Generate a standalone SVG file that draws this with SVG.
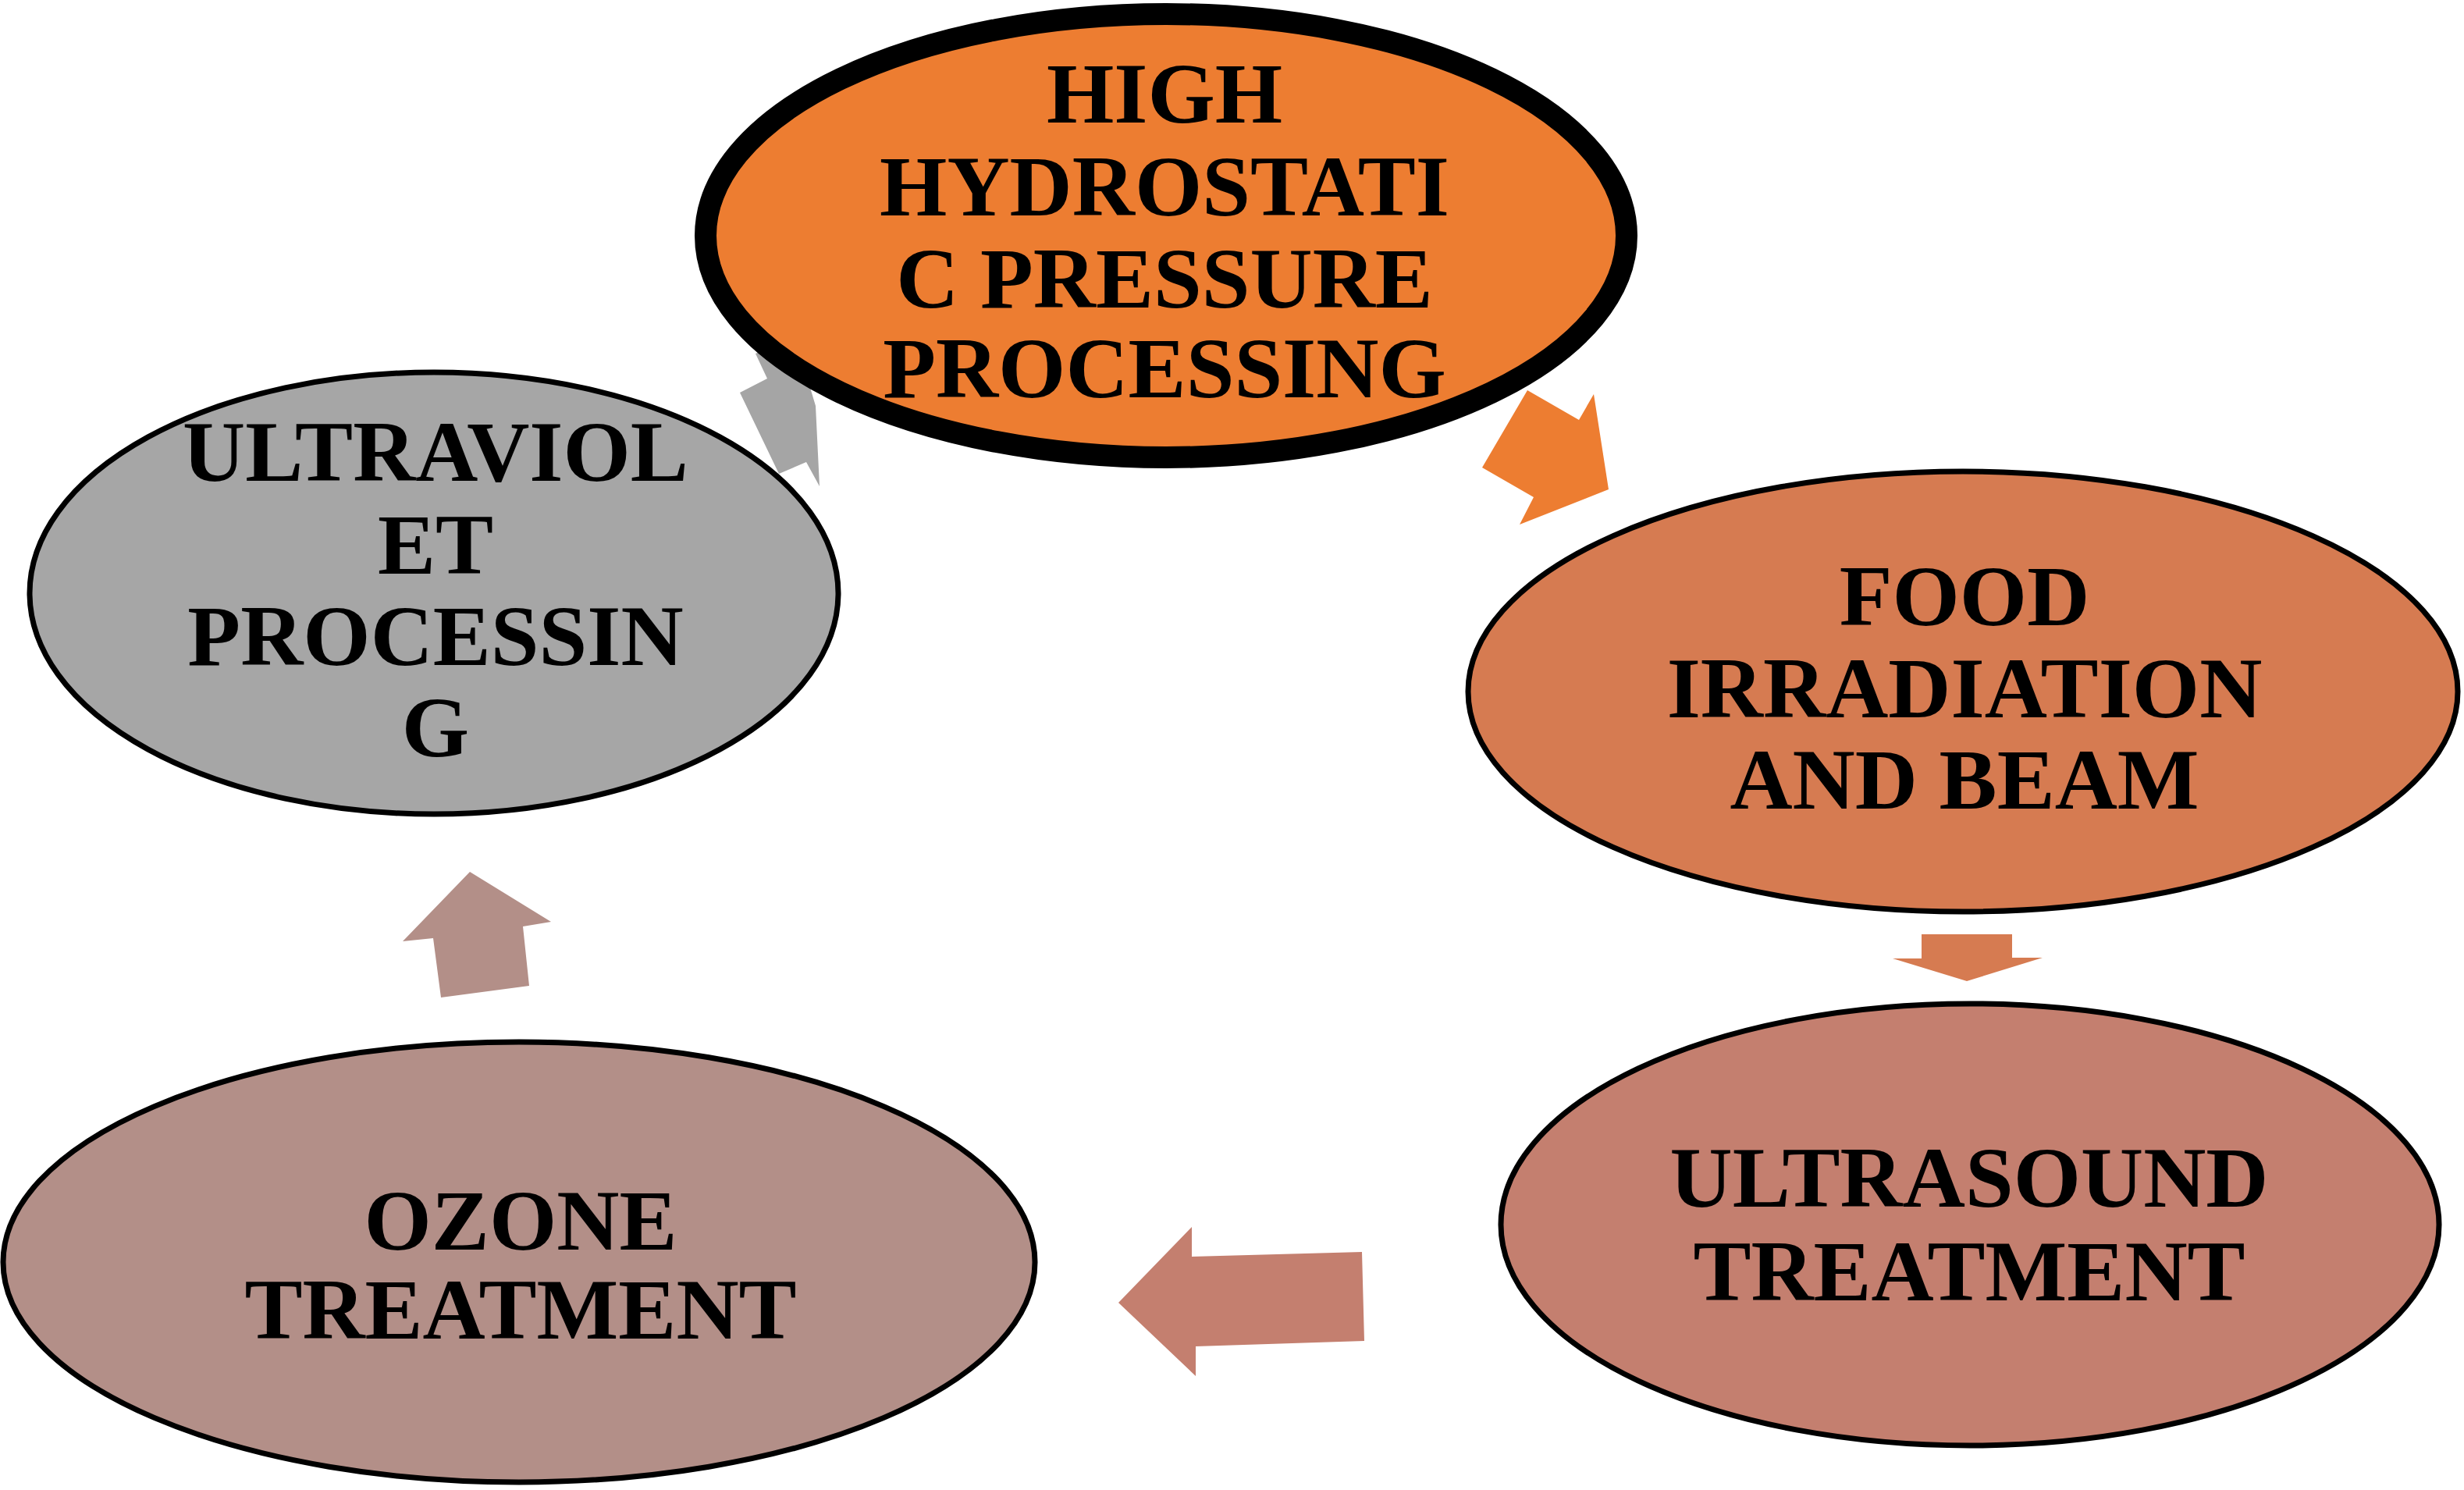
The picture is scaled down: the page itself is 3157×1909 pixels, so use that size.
<svg xmlns="http://www.w3.org/2000/svg" width="3157" height="1909" viewBox="0 0 3157 1909">
<style>
.n{stroke:#000;stroke-width:7}
.t{font-family:"Liberation Serif","Times New Roman",serif;font-weight:bold;font-size:111px;fill:#000;text-anchor:middle}
</style>
<rect width="3157" height="1909" fill="#fff"/>
<g id="connectors">
<polygon points="968,453 983,485 948,503 998,607 1033,592 1050,623 1045,520 1030,470 1000,440" fill="#A5A5A5"/>
<polygon points="1957,500 2023,538 2042,505 2061,627 1947,672 1965,637 1899,599" fill="#ED7D31"/>
<polygon points="2462,1197 2578,1197 2578,1227 2617,1227 2520,1257 2425,1228 2462,1228" fill="#D67B51"/>
<polygon points="1745,1604 1748,1718 1532,1725 1532,1763 1433,1669 1527,1572 1527,1610" fill="#C47F6F"/>
<polygon points="602,1117 706,1181 670,1187 678,1263 565,1278 555,1202 516,1206" fill="#B38F88"/>
</g>
<g id="node-uv">
<ellipse class="n" cx="556" cy="760" rx="518" ry="283" fill="#A6A6A6"/>
<text class="t" x="558" y="616">ULTRAVIOL</text>
<text class="t" x="558" y="735">ET</text>
<text class="t" x="558" y="852">PROCESSIN</text>
<text class="t" x="558" y="969">G</text>
</g>
<g id="node-hhp">
<ellipse cx="1494" cy="302" rx="590" ry="284" fill="#ED7D31" stroke="#000" stroke-width="28"/>
<text class="t" x="1492" y="157">HIGH</text>
<text class="t" x="1492" y="276">HYDROSTATI</text>
<text class="t" x="1492" y="394">C PRESSURE</text>
<text class="t" x="1492" y="509">PROCESSING</text>
</g>
<g id="node-food">
<ellipse class="n" cx="2515" cy="886" rx="634" ry="282" fill="#D67B51"/>
<text class="t" x="2517" y="801">FOOD</text>
<text class="t" x="2517" y="919">IRRADIATION</text>
<text class="t" x="2517" y="1036">AND BEAM</text>
</g>
<g id="node-ultrasound">
<ellipse class="n" cx="2524" cy="1569" rx="601" ry="283" fill="#C47F6F"/>
<text class="t" x="2523" y="1546">ULTRASOUND</text>
<text class="t" x="2523" y="1666">TREATMENT</text>
</g>
<g id="node-ozone">
<ellipse class="n" cx="665" cy="1617" rx="661" ry="282" fill="#B38F88"/>
<text class="t" x="667" y="1601">OZONE</text>
<text class="t" x="667" y="1715">TREATMENT</text>
</g>
</svg>
